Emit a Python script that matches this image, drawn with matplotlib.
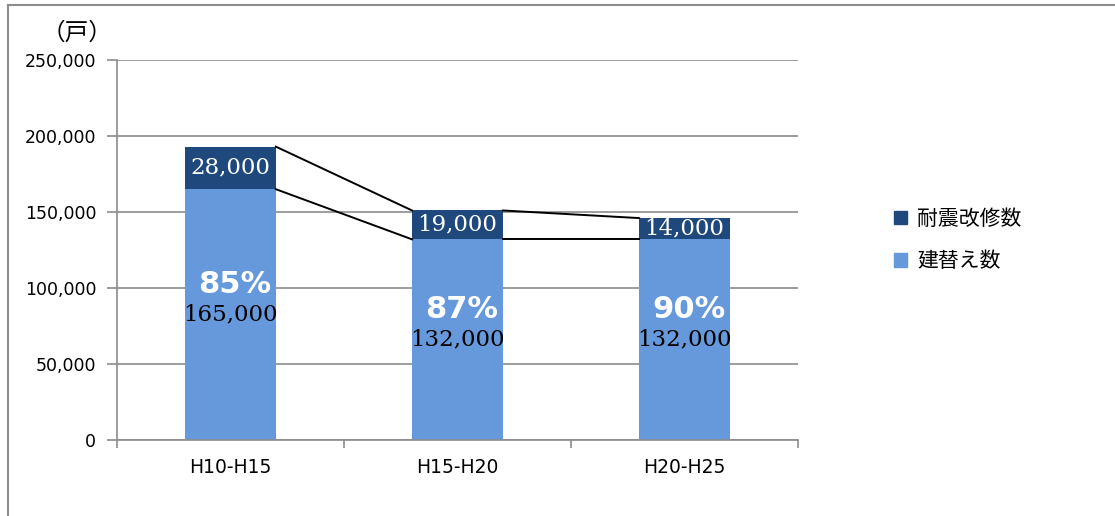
import matplotlib

matplotlib.use("Agg")
import matplotlib.pyplot as plt
from matplotlib.lines import Line2D
from matplotlib.patches import Patch

periods = ["H10-H15", "H15-H20", "H20-H25"]
rebuild = [165000, 132000, 132000]      # 建替え数
retrofit = [28000, 19000, 14000]        # 耐震改修数
y_ticks = [0, 50000, 100000, 150000, 200000, 250000]

LIGHT = "#6699DB"
DARK = "#1F497D"
GRID = "#8C8C8C"
JP = ["Noto Sans CJK JP", "DejaVu Sans"]

fig = plt.figure(figsize=(11.15, 5.16), dpi=100)
ax = fig.add_axes([0.1049, 0.1473, 0.6108, 0.7364])

x = list(range(len(periods)))
width = 0.4
ax.bar(x, rebuild, width, color=LIGHT, label="建替え数", zorder=2)
ax.bar(x, retrofit, width, bottom=rebuild, color=DARK, label="耐震改修数", zorder=2)

# series lines between neighbouring stacks
for i in range(len(periods) - 1):
    for lo, hi in ((rebuild[i], rebuild[i + 1]),
                   (rebuild[i] + retrofit[i], rebuild[i + 1] + retrofit[i + 1])):
        ax.plot([x[i] + width / 2, x[i + 1] - width / 2], [lo, hi],
                color="black", lw=1.4, zorder=3)

for i in x:
    total = rebuild[i] + retrofit[i]
    ax.text(i, rebuild[i] + retrofit[i] / 2, f"{retrofit[i]:,}", ha="center", va="center",
            color="white", fontsize=16.5, family="DejaVu Serif", zorder=4)
    ax.text(i, rebuild[i] / 2, f"{rebuild[i]:,}", ha="center", va="center",
            color="black", fontsize=16.5, family="DejaVu Serif", zorder=4)
    pct = round(rebuild[i] / total * 100)
    ax.annotate(f"{pct}%", (i, rebuild[i] / 2), xytext=(3, 22), textcoords="offset points",
                ha="center", va="center", color="white", fontsize=22, fontweight="bold",
                family="DejaVu Sans", zorder=4)

ax.set_xlim(-0.5, 2.5)
ax.set_ylim(0, 250000)
ax.set_yticks(y_ticks)
ax.set_yticklabels([f"{v:,}" for v in y_ticks], fontsize=12.5, family="DejaVu Sans")
ax.set_xticks(x)
ax.set_xticklabels(periods, fontsize=13.5, family="DejaVu Sans")
ax.tick_params(axis="x", length=0, pad=13)
ax.tick_params(axis="y", length=7, color=GRID, width=1.2, pad=8)
ax.set_xticks([-0.5, 0.5, 1.5, 2.5], minor=True)
ax.tick_params(axis="x", which="minor", length=6, color=GRID, width=1.2)
ax.grid(axis="y", color=GRID, lw=1.2, zorder=0)
for side in ("top", "right"):
    ax.spines[side].set_visible(False)
for side in ("left", "bottom"):
    ax.spines[side].set_color(GRID)
    ax.spines[side].set_linewidth(1.2)

fig.text(0.037, 0.935, "（戸）", fontsize=17, family=JP, ha="left", va="center")

handles = [Patch(color=DARK), Patch(color=LIGHT)]
fig.legend(handles, ["耐震改修数", "建替え数"], loc="center left",
           bbox_to_anchor=(0.785, 0.535), frameon=False, prop={"family": JP, "size": 15},
           handlelength=0.6, handleheight=0.6, handletextpad=0.5, labelspacing=1.0)

# chart area frame (top and left edges visible)
fig.add_artist(Line2D([0.0072, 0.0072], [0, 0.9903], transform=fig.transFigure,
                      color=GRID, lw=1.5))
fig.add_artist(Line2D([0.0072, 1.0], [0.9903, 0.9903], transform=fig.transFigure,
                      color=GRID, lw=1.5))

fig.savefig("out.png", dpi=100)
